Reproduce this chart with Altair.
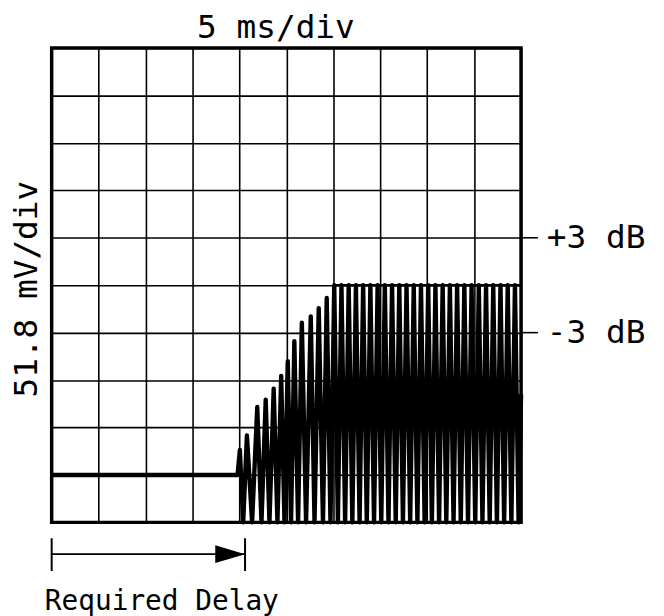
import altair as alt
import pandas as pd

# ---- data (time in ms, 5 ms/div; voltage in mV, 51.8 mV/div) ----
grid_ms = [0, 5, 10, 15, 20, 25, 30, 35, 40, 45, 50]
grid_mv = [0, 51.8, 103.6, 155.4, 207.2, 259.0, 310.8, 362.6, 414.4, 466.2, 518.0]

CLIP_MV = 259.0  # display clip level (5 div)

trace_ms = [0.0, 19.8, 20.05, 20.4, 20.8, 21.35, 21.9, 22.35, 22.8, 23.2, 23.65, 24.05,
            24.45, 24.8, 25.15, 25.5, 25.85, 26.25, 26.65, 27.1, 27.6, 28.0, 28.45, 28.9,
            29.3, 29.7, 30.1, 30.49, 30.87, 31.26, 31.64, 32.03, 32.41, 32.80, 33.18, 33.57,
            33.95, 34.34, 34.72, 35.11, 35.49, 35.88, 36.26, 36.65, 37.03, 37.42, 37.80,
            38.19, 38.57, 38.96, 39.34, 39.73, 40.11, 40.50, 40.88, 41.27, 41.65, 42.04,
            42.42, 42.81, 43.19, 43.58, 43.96, 44.35, 44.73, 45.12, 45.50, 45.89, 46.27,
            46.66, 47.04, 47.43, 47.81, 48.20, 48.58, 48.97, 49.35, 49.74, 50.0]
trace_mv = [51.8, 51.8, 79, 0, 95, 0, 126, 0, 134, 0, 146, 0,
            160, 0, 176, 0, 198, 0, 218, 0, 225, 0, 234, 0,
            245, 0, 259, 0, 259, 0, 259, 0, 259, 0, 259, 0,
            259, 0, 259, 0, 259, 0, 259, 0, 259, 0, 259,
            0, 259, 0, 259, 0, 259, 0, 259, 0, 259, 0,
            259, 0, 259, 0, 259, 0, 259, 0, 259, 0, 259,
            0, 259, 0, 259, 0, 259, 0, 259, 0, 140]

clip_start_ms = [30.1]
clip_end_ms = [50.0]

db_labels = ["+3 dB", "-3 dB"]
db_levels_mv = [310.8, 207.2]

delay_ms = 20.6
title_text = "5 ms/div"
y_text = "51.8 mV/div"
delay_text = "Required Delay"

FONT = "DejaVu Sans Mono"

# ---- chart ----
x_scale = alt.Scale(domain=[0, 50], nice=False, zero=False)
y_scale = alt.Scale(domain=[0, 518], nice=False, zero=False)
x_axis = alt.Axis(values=grid_ms, grid=True, gridColor="black", gridWidth=1.6,
                  gridOpacity=1, labels=False, ticks=False, domain=False, title=None)
y_axis = alt.Axis(values=grid_mv, grid=True, gridColor="black", gridWidth=1.6,
                  gridOpacity=1, labels=False, ticks=False, domain=False, title=None)

trace_df = pd.DataFrame({"t": trace_ms, "v": trace_mv, "i": list(range(len(trace_ms)))})

trace = alt.Chart(trace_df).mark_line(
    color="black", strokeWidth=4.4, strokeJoin="round", strokeCap="butt", opacity=1
).encode(
    x=alt.X("t:Q", scale=x_scale, axis=x_axis),
    y=alt.Y("v:Q", scale=y_scale, axis=y_axis),
    order="i:Q",
)

clip_df = pd.DataFrame({"t": clip_start_ms, "t2": clip_end_ms, "v": [CLIP_MV]})
clip_rule = alt.Chart(clip_df).mark_rule(color="black", strokeWidth=2.6).encode(
    x=alt.X("t:Q", scale=x_scale), x2="t2:Q", y=alt.Y("v:Q", scale=y_scale)
)

db_df = pd.DataFrame({"label": db_labels, "v": db_levels_mv})
db_ticks = alt.Chart(db_df).mark_rule(color="black", strokeWidth=1.6).encode(
    x=alt.value(473), x2=alt.value(490), y=alt.Y("v:Q", scale=y_scale)
)
db_text = alt.Chart(db_df).mark_text(
    font=FONT, fontSize=33, align="left", baseline="middle", color="black"
).encode(x=alt.value(499), y=alt.Y("v:Q", scale=y_scale), text="label:N")

title = alt.Chart(pd.DataFrame({"label": [title_text]})).mark_text(
    font=FONT, fontSize=33, align="center", baseline="middle", color="black"
).encode(x=alt.value(226), y=alt.value(-20), text="label:N")

ylab = alt.Chart(pd.DataFrame({"label": [y_text]})).mark_text(
    font=FONT, fontSize=33, align="center", baseline="middle", angle=270, color="black"
).encode(x=alt.value(-25), y=alt.value(243), text="label:N")

arrow_df = pd.DataFrame({"t0": [0.0], "t1": [delay_ms]})
arrow_line = alt.Chart(arrow_df).mark_rule(color="black", strokeWidth=1.8).encode(
    x=alt.X("t0:Q", scale=x_scale), x2="t1:Q", y=alt.value(510)
)
bars_df = pd.DataFrame({"t": [0.0, delay_ms]})
arrow_bars = alt.Chart(bars_df).mark_rule(color="black", strokeWidth=2).encode(
    x=alt.X("t:Q", scale=x_scale), y=alt.value(494), y2=alt.value(527)
)
arrow_head = alt.Chart(pd.DataFrame({"t": [delay_ms]})).mark_point(
    shape="M-1,-0.6L1,0L-1,0.6Z", size=900, filled=True, color="black",
    opacity=1, xOffset=-15, strokeWidth=0
).encode(x=alt.X("t:Q", scale=x_scale), y=alt.value(510))

delay_label = alt.Chart(pd.DataFrame({"label": [delay_text]})).mark_text(
    font=FONT, fontSize=28, align="center", baseline="alphabetic", color="black"
).encode(x=alt.value(111), y=alt.value(566), text="label:N")

chart = alt.layer(
    trace, clip_rule, db_ticks, db_text, title, ylab,
    arrow_line, arrow_bars, arrow_head, delay_label
).properties(
    width=473, height=478,
    autosize=alt.AutoSizeParams(type="none"),
    padding={"left": 44, "top": 38, "right": 136, "bottom": 92},
    background="white",
).configure_view(stroke="black", strokeWidth=3.5)

chart.save("out.html", embed_options={"renderer": "svg", "actions": False})
